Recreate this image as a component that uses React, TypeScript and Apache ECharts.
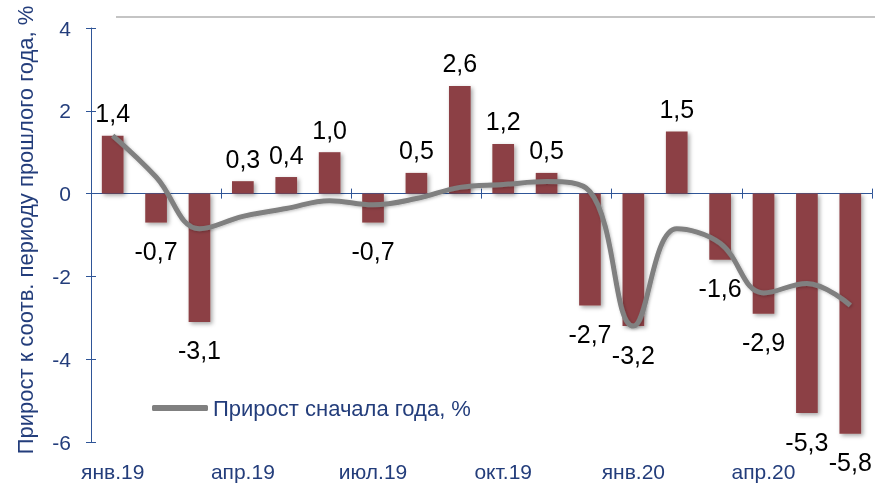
import React, { useEffect, useRef } from "react";
import * as echarts from "echarts";

const categories = [
  "янв.19", "фев.19", "мар.19", "апр.19", "май.19", "июн.19",
  "июл.19", "авг.19", "сен.19", "окт.19", "ноя.19", "дек.19",
  "янв.20", "фев.20", "мар.20", "апр.20", "май.20", "июн.20",
];
const yoyGrowth = [1.4, -0.7, -3.1, 0.3, 0.4, 1.0, -0.7, 0.5, 2.6, 1.2, 0.5, -2.7, -3.2, 1.5, -1.6, -2.9, -5.3, -5.8];
const ytdGrowth = [1.4, 0.4, -0.85, -0.55, -0.36, -0.17, -0.27, -0.12, 0.15, 0.22, 0.29, 0.05, -3.2, -0.85, -1.2, -2.4, -2.17, -2.7];
const lineName = "Прирост сначала года, %";
const barName = "Прирост к соотв. периоду прошлого года, %";
const yAxisName = "Прирост к соотв. периоду прошлого года, %";

const BLUE = "#233D7B";
const AXIS = "#2F5597";
const FONT = "'Liberation Sans', Arial, sans-serif";

export default function App() {
  const ref = useRef<HTMLDivElement>(null);
  useEffect(() => {
    if (!ref.current) return;
    const chart = echarts.init(ref.current, undefined, { renderer: "svg" });
    const barData = yoyGrowth.map((v) => ({
      value: v,
      label: v >= 0 ? { position: "top", distance: 10 } : { position: "bottom", distance: 16 },
    }));
    chart.setOption({
      animation: false,
      textStyle: { fontFamily: FONT },
      grid: { left: 91, right: 3, top: 28, bottom: 41, containLabel: false },
      graphic: [
        {
          type: "line",
          shape: { x1: 116, y1: 17, x2: 875, y2: 17 },
          style: { stroke: "#C4C4C4", lineWidth: 2 },
        },
      ],
      legend: {
        data: [lineName],
        left: 152,
        top: 397,
        padding: 0,
        icon: "roundRect",
        itemWidth: 56,
        itemHeight: 6,
        textStyle: { color: BLUE, fontSize: 22, fontFamily: FONT },
      },
      xAxis: [
        {
          type: "category",
          data: categories,
          position: "bottom",
          axisLine: { show: false, onZero: false },
          axisTick: { show: false },
          axisLabel: { interval: 2, color: BLUE, fontSize: 21, margin: 19, fontFamily: FONT },
        },
        {
          type: "category",
          data: categories,
          position: "bottom",
          axisLine: { show: true, onZero: true, lineStyle: { color: AXIS, width: 1 } },
          axisTick: { show: true, interval: 2, length: 5, lineStyle: { color: AXIS } },
          axisLabel: { show: false },
        },
        {
          type: "category",
          data: categories,
          position: "bottom",
          axisLine: { show: false, onZero: true },
          axisTick: { show: true, inside: true, interval: 2, length: 5, lineStyle: { color: AXIS } },
          axisLabel: { show: false },
        },
      ],
      yAxis: [
        {
          type: "value",
          min: -6,
          max: 4,
          interval: 2,
          name: yAxisName,
          nameLocation: "middle",
          nameGap: 55,
          nameRotate: 90,
          nameTextStyle: { color: BLUE, fontSize: 22, fontFamily: FONT, padding: [0, 0, 0, 10] },
          axisLine: { show: true, lineStyle: { color: AXIS, width: 1 } },
          axisTick: { show: true, length: 5, lineStyle: { color: AXIS } },
          axisLabel: { color: BLUE, fontSize: 21, margin: 20, fontFamily: FONT },
          splitLine: { show: false },
        },
        {
          type: "value",
          min: -6,
          max: 4,
          interval: 2,
          position: "left",
          axisLine: { show: false },
          axisTick: { show: true, inside: true, length: 5, lineStyle: { color: AXIS } },
          axisLabel: { show: false },
          splitLine: { show: false },
        },
      ],
      series: [
        {
          type: "bar",
          name: barName,
          data: barData,
          barWidth: "50%",
          itemStyle: {
            color: "#8C4044",
            shadowColor: "rgba(0,0,0,0.35)",
            shadowBlur: 4,
            shadowOffsetX: 2,
            shadowOffsetY: 2,
          },
          label: {
            show: true,
            color: "#000",
            fontSize: 25,
            fontFamily: FONT,
            formatter: (p: any) => Number(p.value).toFixed(1).replace(".", ","),
          },
          z: 2,
        },
        {
          type: "line",
          name: lineName,
          data: ytdGrowth,
          smooth: 0.4,
          symbol: "none",
          lineStyle: {
            color: "#808080",
            width: 5,
            shadowColor: "rgba(0,0,0,0.25)",
            shadowBlur: 3,
            shadowOffsetX: 1,
            shadowOffsetY: 1,
          },
          itemStyle: { color: "#808080" },
          z: 3,
        },
      ],
    });
    return () => chart.dispose();
  }, []);
  return (
    <div
      ref={ref}
      style={{ position: "fixed", left: 0, top: 0, width: 875, height: 483 }}
    />
  );
}
